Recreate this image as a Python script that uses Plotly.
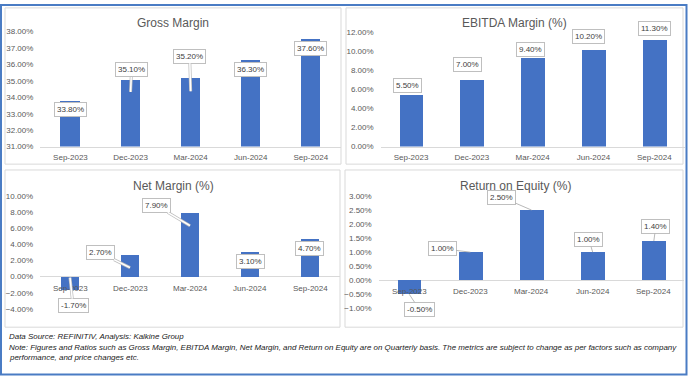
import plotly.graph_objects as go

W, H = 688, 381

categories = ["Sep-2023", "Dec-2023", "Mar-2024", "Jun-2024", "Sep-2024"]
gross_margin = [33.8, 35.1, 35.2, 36.3, 37.6]
ebitda_margin = [5.5, 7.0, 9.4, 10.2, 11.3]
net_margin = [-1.7, 2.7, 7.9, 3.1, 4.7]
return_on_equity = [-0.5, 1.0, 2.5, 1.0, 1.4]

titles = ["Gross Margin", "EBITDA Margin (%)", "Net Margin (%)", "Return on Equity (%)"]
footnotes = [
    "Data Source: REFINITIV, Analysis: Kalkine Group",
    "Note: Figures and Ratios such as Gross Margin, EBITDA Margin, Net Margin, and Return on Equity are on Quarterly basis. The metrics are subject to change as per factors such as company",
    "performance, and price changes etc.",
]

BAR = "#4472C4"
TXT = "#595959"
LBL = "#404040"
FONT = "Liberation Sans"

# layout / style per panel (pixels)
panels = [
    dict(values=gross_margin, title=titles[0], box=(5, 4, 341, 164), xdom=(40.4, 340.9), ydom=(28.3, 146),
         rng=(31, 38), dtick=1, width=0.32, title_xy=(173, 19), zero_labels=False,
         labels=[(0, 9, 0, "none"), (1, -9, 13, "tail"), (-1, -21, 14, "tail"), (0, 10, 0, "none"), (0, 10, 0, "none")]),
    dict(values=ebitda_margin, title=titles[1], box=(346, 4, 683, 164), xdom=(380.6, 684.7), ydom=(29.3, 146),
         rng=(0, 12), dtick=2, width=0.39, title_xy=(514, 19), zero_labels=False,
         labels=[(-4, -8.4, 0, "none"), (-4.5, -15.7, 0, "none"), (-1.7, -7.7, 0, "none"), (-5.3, -13.2, 0, "none"), (0, -10.8, 0, "none")]),
    dict(values=net_margin, title=titles[2], box=(5, 170, 340, 331), xdom=(40, 340), ydom=(196.7, 312.3),
         rng=(-4, 10), dtick=2, width=0.30, title_xy=(173, 186), zero_labels=True,
         labels=[(3, 15, 13, "tail"), (-30, -2, 13, "tail"), (-34, -7.4, 13, "tail"), (0, 10, 0, "none"), (-1, 9.5, 0, "none")]),
    dict(values=return_on_equity, title=titles[3], box=(345, 170, 683, 331), xdom=(378.7, 684.4), ydom=(196.7, 311.7),
         rng=(-1, 3), dtick=0.5, width=0.39, title_xy=(515, 186), zero_labels=True,
         labels=[(10, 15, 0, "line"), (-28, -3.5, 0, "line"), (-30, -13, 0, "line"), (-3.7, -12.5, 0, "line"), (2, -14.4, 0, "line")]),
]


def px_x(p):
    return p / W


def px_y(p):
    return 1 - p / H


fig = go.Figure()
annotations = []
shapes = []
layout = {}

for i, p in enumerate(panels):
    n = "" if i == 0 else str(i + 1)
    xa, ya = "x" + n, "y" + n
    fig.add_trace(go.Bar(x=categories, y=p["values"], xaxis=xa, yaxis=ya, width=p["width"],
                         marker=dict(color=BAR, line=dict(width=0)), showlegend=False, hoverinfo="skip"))
    rmin, rmax = p["rng"]
    layout["xaxis" + n] = dict(domain=[px_x(p["xdom"][0]), px_x(p["xdom"][1])], anchor=ya,
                               showgrid=False, zeroline=False, fixedrange=True,
                               showline=not p["zero_labels"], linecolor="#D9D9D9", linewidth=1,
                               showticklabels=not p["zero_labels"], ticks="",
                               tickfont=dict(family=FONT, size=8, color=TXT), ticklabelstandoff=3,
                               range=[-0.5, 4.5])
    layout["yaxis" + n] = dict(domain=[px_y(p["ydom"][1]), px_y(p["ydom"][0])], anchor=xa,
                               range=[rmin, rmax], dtick=p["dtick"], tick0=rmin, showgrid=False,
                               zeroline=p["zero_labels"], zerolinecolor="#D9D9D9", zerolinewidth=1,
                               showline=False, ticks="", ticksuffix="%", tickformat=".2f",
                               tickfont=dict(family=FONT, size=8, color=TXT), ticklabelstandoff=6,
                               fixedrange=True)
    ppu = (p["ydom"][1] - p["ydom"][0]) / (rmax - rmin)

    # panel border
    x0, y0, x1, y1 = p["box"]
    shapes.append(dict(type="rect", xref="paper", yref="paper", x0=px_x(x0), x1=px_x(x1),
                       y0=px_y(y1), y1=px_y(y0), line=dict(color="#D9D9D9", width=1), layer="below"))
    # title
    annotations.append(dict(xref="paper", yref="paper", x=px_x(p["title_xy"][0]), y=px_y(p["title_xy"][1]),
                            text=p["title"], showarrow=False, xanchor="center", yanchor="middle",
                            font=dict(family=FONT, size=12, color=TXT)))
    # category labels at zero line
    if p["zero_labels"]:
        for c in categories:
            annotations.append(dict(xref=xa, yref=ya, x=c, y=0, text=c, showarrow=False,
                                    xanchor="center", yanchor="middle", yshift=-11.5,
                                    font=dict(family=FONT, size=8, color=TXT)))
    # data labels
    box_style = dict(bgcolor="white", bordercolor="#BFBFBF", borderwidth=1, borderpad=2,
                     font=dict(family=FONT, size=8, color=LBL))
    for c, v, (dx, dy, depth, mode) in zip(categories, p["values"], p["labels"]):
        text = f"{v:.2f}%"
        if mode == "none":
            annotations.append(dict(xref=xa, yref=ya, x=c, y=v, text=text, showarrow=False,
                                    xanchor="center", yanchor="middle", xshift=dx, yshift=-dy, **box_style))
        else:
            sign = 1 if v >= 0 else -1
            tip = v - sign * depth / ppu
            ay = dy - sign * depth
            if mode == "tail":
                annotations.append(dict(xref=xa, yref=ya, x=c, y=tip, text=text, showarrow=True,
                                        axref="pixel", ayref="pixel", ax=dx, ay=ay, arrowhead=0,
                                        arrowwidth=3, arrowcolor="#BFBFBF", standoff=0, **box_style))
                annotations.append(dict(xref=xa, yref=ya, x=c, y=tip, text=text, showarrow=True,
                                        axref="pixel", ayref="pixel", ax=dx, ay=ay, arrowhead=0,
                                        arrowwidth=1.5, arrowcolor="white", standoff=0, **box_style))
            else:
                annotations.append(dict(xref=xa, yref=ya, x=c, y=tip, text=text, showarrow=True,
                                        axref="pixel", ayref="pixel", ax=dx, ay=ay, arrowhead=0,
                                        arrowwidth=0.8, arrowcolor="#A6A6A6", standoff=0, **box_style))

# footnotes
for line, ypx in zip(footnotes, [341, 352, 362.5]):
    annotations.append(dict(xref="paper", yref="paper", x=px_x(7), y=px_y(ypx), text=f"<i>{line}</i>",
                            showarrow=False, xanchor="left", yanchor="middle",
                            font=dict(family=FONT, size=7.95, color="#1a1a1a")))

# outer border
shapes.append(dict(type="rect", xref="paper", yref="paper", x0=px_x(1), x1=px_x(686.5),
                   y0=px_y(379.5), y1=px_y(1), line=dict(color="#4A7CC4", width=2)))

fig.update_layout(width=W, height=H, margin=dict(l=0, r=0, t=0, b=0),
                  paper_bgcolor="white", plot_bgcolor="white", bargap=0,
                  annotations=annotations, shapes=shapes, **layout)

fig.write_html("out.html", config={"displayModeBar": False},
               post_script="document.body.style.margin='0';document.body.style.padding='0';"
                           "document.body.style.overflow='hidden';")
